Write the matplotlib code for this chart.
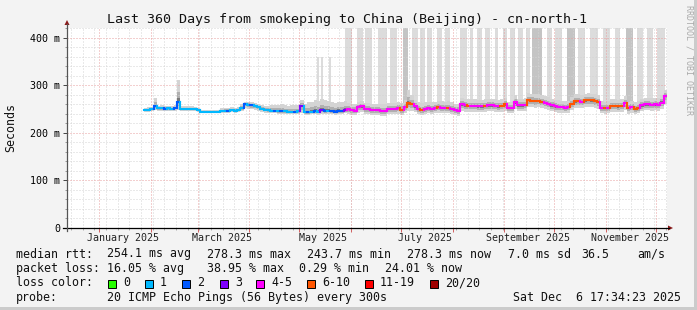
import numpy as np
import matplotlib
matplotlib.use('Agg')
import matplotlib.pyplot as plt
import matplotlib.transforms as mtrans
from matplotlib.lines import Line2D
from matplotlib.patches import Rectangle, Polygon
from matplotlib.collections import LineCollection
import datetime as dt

W, H = 697, 310

# ---------------- data ----------------
# time axis: days from left edge of graph (360 days shown)
axis_start = dt.datetime(2024, 12, 12, 14, 30)
first_step_day = 46
step_days = 2

median_ms = [249, 249, 250, 257, 252, 252, 251, 252, 251, 253, 266, 251, 250, 250, 251, 250, 248, 245, 244, 244,
             244, 244, 245, 247, 247, 247, 248, 247,
             248, 252, 261, 259, 258, 256, 254, 251, 249, 248, 247, 247, 246, 246, 246, 245, 245, 245, 246, 257,
             244, 244, 245, 246, 245, 248, 246, 247, 246, 245, 247, 246, 249,
             251, 248, 247, 254, 256, 251, 250, 249, 249, 248, 247, 246, 250, 251, 250, 252, 249, 255, 263, 261,
             256, 251, 249, 251, 252, 251, 252, 254, 253, 252, 253, 251, 248, 247, 260, 258, 257, 257, 257, 256,
             256, 257, 258, 258, 257, 256, 257, 260, 252, 252, 265, 258, 258, 259, 270, 268, 267, 268, 266, 264,
             262, 258, 256, 255, 254, 253, 254, 262, 267, 267, 266, 269, 270, 269, 268, 266, 253, 252, 253, 257,
             257, 256, 257, 263, 252, 254, 251, 253, 258, 260, 260, 259, 260, 259, 264, 278]

loss_pings = [1, 1, 1, 2, 1, 1, 2, 1, 1, 2, 2, 1, 1, 1, 1, 1, 1, 1, 1, 1, 1, 1, 1, 1, 1, 2, 1, 1,
              1, 1, 2, 1, 2, 1, 1, 1, 1, 1, 1, 2, 1, 2, 1, 1, 1, 2, 1, 3,
              1, 2, 1, 2, 1, 3, 2, 1, 2, 2, 2, 2, 3,
              4, 4, 4, 4, 4, 4, 4, 4, 4, 4, 4, 4, 4, 4, 5, 4, 7, 5, 7, 7,
              5, 5, 7, 5, 4, 4, 4, 7, 4, 4, 7, 4, 4, 4, 5, 4, 7, 4, 4, 4,
              4, 7, 4, 4, 4, 5, 7, 7, 4, 5, 5, 4, 4, 4, 7, 7, 7, 7, 7, 4,
              4, 4, 4, 4, 4, 5, 4, 7, 7, 7, 4, 7, 7, 7, 7, 7, 5, 7, 4, 7,
              7, 7, 7, 5, 7, 5, 7, 7, 4, 4, 4, 4, 4, 4, 4, 5]

smoke_lo = [245, 245, 246, 248, 247, 247, 246, 247, 246, 247, 249, 246, 246, 246, 246, 246, 244, 241, 241, 241,
            241, 241, 242, 243, 243, 243, 244, 243,
            244, 246, 252, 251, 250, 249, 247, 245, 243, 242, 241, 241, 240, 240, 240, 239, 239, 239, 240, 243,
            238, 238, 239, 239, 238, 240, 239, 240, 239, 238, 239, 239, 241,
            240, 238, 237, 242, 244, 240, 239, 238, 238, 237, 236, 236, 239, 240, 239, 240, 238, 242, 246, 247,
            244, 240, 238, 240, 241, 240, 241, 242, 241, 241, 242, 240, 237, 236, 246, 245, 245, 245, 245, 244,
            244, 245, 246, 246, 245, 244, 245, 247, 241, 241, 250, 246, 246, 247, 254, 254, 253, 254, 252, 250,
            249, 246, 244, 243, 242, 241, 242, 248, 252, 253, 252, 254, 255, 254, 253, 251, 241, 240, 241, 244,
            245, 244, 245, 249, 240, 242, 239, 241, 246, 248, 248, 247, 248, 247, 251, 262]

smoke_hi = [253, 254, 255, 273, 257, 258, 257, 257, 256, 258, 311, 256, 256, 257, 256, 255, 252, 249, 248, 248,
            248, 248, 249, 252, 253, 253, 254, 253,
            255, 262, 266, 266, 266, 264, 262, 259, 256, 257, 258, 258, 259, 260, 258, 257, 258, 258, 258, 270,
            262, 265, 266, 270, 268, 272, 270, 268, 265, 263, 266, 266, 268,
            263, 262, 262, 266, 268, 264, 263, 262, 262, 261, 260, 260, 263, 264, 263, 266, 264, 270, 290, 280,
            270, 265, 263, 265, 266, 265, 266, 268, 267, 266, 268, 265, 262, 262, 274, 272, 271, 271, 271, 270,
            270, 271, 272, 272, 271, 270, 271, 274, 266, 266, 280, 272, 272, 273, 285, 283, 281, 282, 280, 278,
            276, 272, 270, 269, 268, 267, 268, 276, 281, 281, 280, 283, 284, 283, 282, 280, 267, 266, 267, 271,
            271, 270, 271, 277, 266, 268, 265, 267, 272, 274, 274, 273, 274, 273, 280, 290]

# tall smoke columns (high ping outliers), days from left edge
bar_start = [150.0, 152.4, 157.2, 166.8, 174.0, 178.8, 186.6, 193.8, 201.6, 207.0, 211.8, 216.0, 222.0, 226.8,
             235.8, 241.8, 246.0, 250.8, 256.8, 261.6, 265.8, 270.6, 275.4, 279.0, 288.0, 292.8, 300.0, 306.6,
             313.8, 321.6, 328.8, 335.4, 342.0, 348.0, 354.0]
bar_end = [151.2, 153.6, 158.4, 171.0, 177.6, 183.0, 192.0, 198.0, 204.6, 210.6, 214.8, 219.0, 225.0, 229.8,
           240.0, 243.6, 249.0, 253.8, 258.6, 264.0, 268.8, 273.6, 277.8, 285.0, 291.0, 297.0, 304.8, 310.8,
           318.6, 325.8, 331.8, 339.6, 345.6, 351.6, 358.8]
bar_top = [360, 360, 360] + [440] * 32
bar_dark = [0, 0, 0, 0, 0, 0, 0, 0, 1, 0, 0, 0, 0, 0,
            0, 0, 0, 0, 0, 0, 0, 0, 0, 1, 0, 0, 1, 0,
            0, 0, 0, 1, 0, 0, 0]

loss_labels = ["0", "1", "2", "3", "4-5", "6-10", "11-19", "20/20"]
loss_colors = ["#26ff00", "#00b8ff", "#0059ff", "#7e00ff", "#ff00ff", "#ff5500", "#ff0000", "#a00000"]
loss_upper = [0, 1, 2, 3, 5, 10, 19, 20]

month_labels = ["January 2025", "March 2025", "May 2025", "July 2025", "September 2025", "November 2025"]
ytick_vals = [0, 100, 200, 300, 400]
ytick_labels = ["0", "100 m", "200 m", "300 m", "400 m"]

title = "Last 360 Days from smokeping to China (Beijing) - cn-north-1"
rtt_stats = ["median rtt:", "254.1 ms avg", "278.3 ms max", "243.7 ms min", "278.3 ms now", "7.0 ms sd", "36.5", "am/s"]
loss_stats = ["packet loss:", "16.05 % avg", "38.95 % max", "0.29 % min", "24.01 % now"]
probe_text = "20 ICMP Echo Pings (56 Bytes) every 300s"
date_text = "Sat Dec  6 17:34:23 2025"

# ---------------- figure ----------------
MONO = "DejaVu Sans Mono"
plt.rcParams['font.family'] = [MONO]

def fx(px):
    return px / W

def fy(py):
    return 1 - py / H

fig = plt.figure(figsize=(W / 100, H / 100), dpi=100, facecolor='#f3f3f3')
ax = fig.add_axes([fx(67), fy(228), 600 / W, (228 - 27.5) / H])
ax.set_facecolor('white')
ax.set_xlim(0, 360)
ax.set_ylim(0, 422)
for s in ax.spines.values():
    s.set_visible(False)

def tday(d):
    return (d - axis_start).total_seconds() / 86400.0

month_t = [tday(dt.datetime(2025, m, 1)) for m in range(1, 13)]
week_t = []
d = dt.datetime(2024, 12, 15)
while tday(d) < 360:
    week_t.append(tday(d))
    d += dt.timedelta(days=7)

# tall bars
for s0, s1, top, dk in zip(bar_start, bar_end, bar_top, bar_dark):
    ax.bar(s0, top - 262, width=s1 - s0, bottom=262, align='edge',
           color='#c4c4c4' if dk else '#dcdcdc', lw=0, zorder=1)

# smoke
n = len(median_ms)
med = np.array(median_ms, float)
lo = np.array(smoke_lo, float)
hi = np.array(smoke_hi, float)
t = first_step_day + step_days * np.arange(n + 1)
ext = lambda a: np.append(a, a[-1])
ax.fill_between(t, ext(lo), ext(hi), step='post', color='#d4d4d4', lw=0, zorder=2)
ax.fill_between(t, ext(med - 0.55 * (med - lo)), ext(med + 0.45 * (hi - med)), step='post',
                color='#b0b0b0', lw=0, zorder=2)
ax.fill_between(t, ext(med - 0.2 * (med - lo)), ext(med + 0.15 * (hi - med)), step='post',
                color='#7a7a7a', lw=0, zorder=2)

# grid
gkw = dict(lw=0.72, zorder=3, dashes=(1, 2))
for wt in week_t:
    ax.axvline(wt, color='#d4d4d4', **gkw)
for yv in range(20, 421, 20):
    if yv % 100:
        ax.axhline(yv, color='#d4d4d4', **gkw)
for mt in month_t:
    if 0 < mt < 360:
        ax.axvline(mt, color='#e8a0a0', **gkw)
for yv in (100, 200, 300, 400):
    ax.axhline(yv, color='#e8a0a0', **gkw)

# median line coloured by loss
def lcolor(lp):
    for up, c in zip(loss_upper, loss_colors):
        if lp <= up:
            return c
    return loss_colors[-1]

segs, cols = [], []
for i in range(n):
    c = lcolor(loss_pings[i])
    segs.append([(t[i], med[i]), (t[i + 1], med[i])])
    cols.append(c)
    if i > 0:
        segs.append([(t[i], med[i - 1]), (t[i], med[i])])
        cols.append(c)
ax.add_collection(LineCollection(segs, colors=cols, linewidths=1.5, zorder=4, capstyle='projecting'))

# ticks
ax.set_yticks(ytick_vals)
ax.set_yticklabels(ytick_labels, fontsize=7.2, family=MONO)
ax.set_yticks(list(range(20, 421, 20)), minor=True)
ax.tick_params(axis='y', which='major', length=3, width=0.7, color='#444444', pad=2)
ax.tick_params(axis='y', which='minor', length=1.5, width=0.7, color='#999999')
ax.set_xticks([m for m in month_t if 0 < m < 360])
ax.set_xticklabels([])
ax.set_xticks(week_t, minor=True)
ax.tick_params(axis='x', which='major', length=3, width=0.7, color='#d06060')
ax.tick_params(axis='x', which='minor', length=1.5, width=0.7, color='#aaaaaa')

# month labels (centred half a month after the month start)
btr = mtrans.blended_transform_factory(ax.transData, fig.transFigure)
for i, lab in enumerate(month_labels):
    ax.text(month_t[2 * i] + 14.5, fy(237.7), lab, transform=btr,
            ha='center', va='center', fontsize=7.2, family=MONO, color='#222222')

# axis lines + arrows
fig.add_artist(Line2D([fx(63), fx(669)], [fy(228), fy(228)], color='black', lw=0.9))
fig.add_artist(Line2D([fx(67), fx(67)], [fy(231), fy(24)], color='#555555', lw=0.9))
fig.add_artist(Polygon([(fx(668), fy(225.5)), (fx(673), fy(228)), (fx(668), fy(230.5))],
                       closed=True, color='#8b1a1a', lw=0))
fig.add_artist(Polygon([(fx(64.5), fy(25)), (fx(67), fy(20)), (fx(69.5), fy(25))],
                       closed=True, color='#8b1a1a', lw=0))

# texts
fig.text(fx(347), fy(19.5), title, ha='center', va='center', fontsize=9.6, family=MONO, color='#111111')
fig.text(fx(10.5), fy(127.5), "Seconds", rotation=90, ha='center', va='center', fontsize=8.4, family=MONO,
         color='#111111')
fig.text(fx(689), fy(5), "RRDTOOL / TOBI OETIKER", rotation=270, ha='center', va='top', fontsize=6,
         family=MONO, color='#aaaaaa')

rtt_x = [16, 107, 207, 307, 407, 508, 581, 637]
for x, s in zip(rtt_x, rtt_stats):
    fig.text(fx(x), fy(254), s, ha='left', va='center', fontsize=8.4, family=MONO, color='#111111')
loss_x = [16, 107, 207, 299, 385]
for x, s in zip(loss_x, loss_stats):
    fig.text(fx(x), fy(268.5), s, ha='left', va='center', fontsize=8.4, family=MONO, color='#111111')
fig.text(fx(16), fy(283), "loss color:", ha='left', va='center', fontsize=8.4, family=MONO, color='#111111')
box_x = [108, 145, 182, 220, 256, 307, 365, 430]
for x, lab, c in zip(box_x, loss_labels, loss_colors):
    fig.add_artist(Rectangle((fx(x), fy(287.5)), 8 / W, 8 / H, transform=fig.transFigure,
                             facecolor=c, edgecolor='black', lw=0.7))
    fig.text(fx(x + 15), fy(283), lab, ha='left', va='center', fontsize=8.4, family=MONO, color='#111111')
fig.text(fx(16), fy(297.5), "probe:", ha='left', va='center', fontsize=8.4, family=MONO, color='#111111')
fig.text(fx(107), fy(297.5), probe_text, ha='left', va='center', fontsize=8.4, family=MONO, color='#111111')
fig.text(fx(513), fy(297.5), date_text, ha='left', va='center', fontsize=8.4, family=MONO, color='#111111')

# frame shading
fig.add_artist(Rectangle((0, 0), 1, 3 / H, transform=fig.transFigure, color='#cbcbcb', lw=0))
fig.add_artist(Rectangle((1 - 3 / W, 0), 3 / W, 1, transform=fig.transFigure, color='#cbcbcb', lw=0))

fig.savefig('out.png', dpi=100, facecolor=fig.get_facecolor())
